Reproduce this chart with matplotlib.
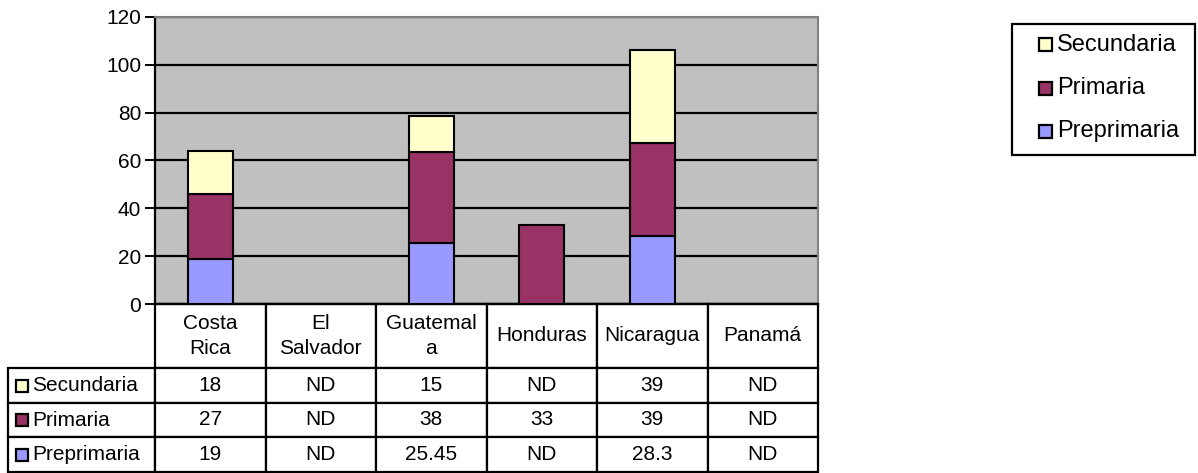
import matplotlib
matplotlib.use("Agg")
import matplotlib.pyplot as plt
from matplotlib.table import Table
from matplotlib.patches import Rectangle
import numpy as np

plt.rcParams['font.family'] = ['Liberation Sans', 'DejaVu Sans']

paises = ["Costa\nRica", "El\nSalvador", "Guatemal\na", "Honduras", "Nicaragua", "Panamá"]
series = ["Secundaria", "Primaria", "Preprimaria"]
preprimaria = [19, np.nan, 25.45, np.nan, 28.3, np.nan]
primaria = [27, np.nan, 38, 33, 39, np.nan]
secundaria = [18, np.nan, 15, np.nan, 39, np.nan]
colores = {"Secundaria": "#FFFFCC", "Primaria": "#993366", "Preprimaria": "#9999FF"}

W, H = 1198, 473
fig = plt.figure(figsize=(W / 100, H / 100), dpi=100)
ax = fig.add_axes([155 / W, 1 - 304 / H, 663 / W, 287 / H])
ax.set_facecolor("#C0C0C0")

x = np.arange(len(paises))
pre = np.nan_to_num(preprimaria)
pri = np.nan_to_num(primaria)
sec = np.nan_to_num(secundaria)
ancho = 0.41
kw = dict(width=ancho, edgecolor="black", linewidth=1.5, zorder=3)
b1 = ax.bar(x, pre, color=colores["Preprimaria"], **kw)
b2 = ax.bar(x, pri, bottom=pre, color=colores["Primaria"], **kw)
b3 = ax.bar(x, sec, bottom=pre + pri, color=colores["Secundaria"], **kw)
# hide zero-height bars
for cont in (b1, b2, b3):
    for r in cont:
        if r.get_height() == 0:
            r.set_visible(False)

ax.set_xlim(-0.5, len(paises) - 0.5)
ax.set_ylim(0, 120)
ax.set_yticks(range(0, 121, 20))
ax.yaxis.grid(True, color="black", linewidth=1.6, zorder=1)
ax.set_axisbelow(True)
ax.set_xticks([])
ax.tick_params(axis="y", labelsize=15, length=7, width=1.4, direction="out", pad=3)
for s in ("top", "right"):
    ax.spines[s].set_color("#808080")
    ax.spines[s].set_linewidth(1.5)
ax.spines["left"].set_linewidth(1.6)
ax.spines["bottom"].set_linewidth(1.6)

# data table
def fmt(v):
    return "ND" if np.isnan(v) else f"{v:g}"

filas = {"Secundaria": secundaria, "Primaria": primaria, "Preprimaria": preprimaria}
tab = Table(ax, bbox=[0, -168 / 287, 1, 168 / 287])
cw, lw = 1 / 6, 147 / 663
hh, rh = 64 / 287, 34.7 / 287
for j, p in enumerate(paises):
    c = tab.add_cell(0, j, width=cw, height=hh, text=p, loc="center")
    c.set_linewidth(1.6)
    c.get_text().set_linespacing(1.45)
for i, s in enumerate(series, start=1):
    c = tab.add_cell(i, -1, width=lw, height=rh, text="", loc="left")
    c.set_linewidth(1.6)
    for j, v in enumerate(filas[s]):
        c = tab.add_cell(i, j, width=cw, height=rh, text=fmt(v), loc="center")
        c.set_linewidth(1.6)
tab.auto_set_font_size(False)
tab.set_fontsize(15)
for cell in tab.get_celld().values():
    cell.PAD = 0.02
ax.add_table(tab)

# row labels with legend keys
for i, s in enumerate(series):
    yc = 1 - (368 + 34.7 * i + 17.5) / H
    fig.patches.append(Rectangle((16 / W, yc - 6 / H), 12 / W, 12 / H,
                                 transform=fig.transFigure, facecolor=colores[s],
                                 edgecolor="black", linewidth=1.6))
    fig.text(32 / W, yc, s, fontsize=15, va="center", ha="left")

# legend (drawn in figure pixels)
fig.patches.append(Rectangle((1012 / W, 1 - 155 / H), 183 / W, 131 / H,
                             transform=fig.transFigure, facecolor="white",
                             edgecolor="black", linewidth=1.6))
for i, s in enumerate(series):
    yc = 1 - (45 + 43 * i) / H
    fig.patches.append(Rectangle((1039 / W, yc - 6.5 / H), 13 / W, 13 / H,
                                 transform=fig.transFigure, facecolor=colores[s],
                                 edgecolor="black", linewidth=1.6, zorder=3))
    fig.text(1057 / W, yc, s, fontsize=17, va="center", ha="left", zorder=3)

fig.savefig("out.png", dpi=100)
